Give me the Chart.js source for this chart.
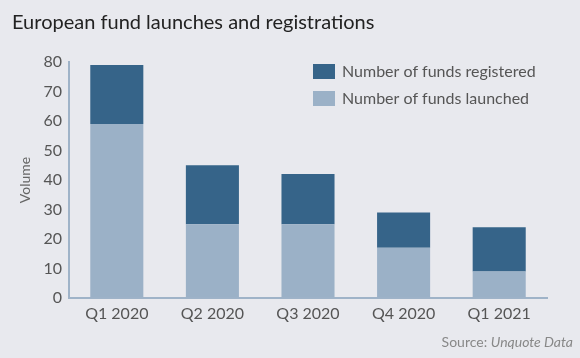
<!DOCTYPE html>
<html><head><meta charset="utf-8">
<script src="https://cdn.jsdelivr.net/npm/chart.js@4"></script>
<style>
html,body{margin:0;padding:0;background:#e8e9ee;}
#wrap{width:580px;height:358px;position:relative;}
</style></head>
<body><div id="wrap"><canvas id="c" width="580" height="358"></canvas></div>
<script>
const categories = ["Q1 2020","Q2 2020","Q3 2020","Q4 2020","Q1 2021"];
const launched = [59, 25, 25, 17, 9];
const registered = [20, 20, 17, 12, 15];
const yTicks = [0,10,20,30,40,50,60,70,80];
const titleText = "European fund launches and registrations";
const axisTitle = "Volume";

const darkC = "#366489", lightC = "#9bb1c7";
const F = "Lato, 'Noto Sans', sans-serif";

const deco = {
  id:'deco',
  beforeDraw(chart){
    const ctx = chart.ctx;
    ctx.save();
    ctx.fillStyle = "#e8e9ee";
    ctx.fillRect(0,0,chart.width,chart.height);
    ctx.restore();
  },
  afterDraw(chart){
    const ctx = chart.ctx;
    ctx.save();
    ctx.fillStyle = "#222";
    ctx.font = "20px " + F;
    ctx.textBaseline = "alphabetic";
    ctx.textAlign = "left";
    ctx.fillText(titleText, 12, 29);
    // legend
    const ds = chart.data.datasets.slice().reverse();
    ds.forEach((d,i)=>{
      const y = 64 + i*27;
      ctx.fillStyle = d.backgroundColor;
      ctx.fillRect(313, y, 22, 15);
      ctx.fillStyle = "#555";
      ctx.font = "16px " + F;
      ctx.textBaseline = "middle";
      ctx.fillText(d.label, 342, y + 8);
    });
    // source
    ctx.textBaseline = "alphabetic";
    ctx.font = "italic 14px " + F;
    const t2 = "Unquote Data";
    const w2 = ctx.measureText(t2).width;
    ctx.fillStyle = "#888";
    const right = 573;
    ctx.fillText(t2, right - w2, 347);
    ctx.font = "14px " + F;
    const t1 = "Source: ";
    const w1 = ctx.measureText(t1).width;
    ctx.fillText(t1, right - w2 - w1, 347);
    ctx.restore();
  }
};

new Chart(document.getElementById('c'), {
  type:'bar',
  data:{
    labels: categories,
    datasets:[
      {label:"Number of funds launched", data: launched, backgroundColor: lightC, stack:'s'},
      {label:"Number of funds registered", data: registered, backgroundColor: darkC, stack:'s'}
    ]
  },
  options:{
    responsive:false,
    animation:false,
    devicePixelRatio:1,
    layout:{padding:{top:62,left:17,right:33,bottom:0}},
    plugins:{legend:{display:false}, tooltip:{enabled:false}, title:{display:false}},
    datasets:{bar:{categoryPercentage:1, barPercentage:0.555}},
    scales:{
      x:{
        stacked:true,
        grid:{display:true, drawOnChartArea:false, drawTicks:false},
        border:{display:true, color:"#9fb3c8", width:2},
        ticks:{color:"#555", font:{family:F, size:16}, padding:6, maxRotation:0},
        afterFit(s){ s.height = 60; }
      },
      y:{
        stacked:true,
        min:0, max:80,
        afterBuildTicks(s){ s.ticks = yTicks.map(v=>({value:v})); },
        grid:{display:true, drawOnChartArea:false, drawTicks:false},
        border:{display:true, color:"#9fb3c8", width:2},
        ticks:{color:"#555", font:{family:F, size:16}, padding:7},
        title:{display:true, text:axisTitle, color:"#666", font:{family:F, size:14}, padding:{top:0,bottom:4}},
        afterFit(s){ s.width = 52; }
      }
    }
  },
  plugins:[deco]
});
</script></body></html>
